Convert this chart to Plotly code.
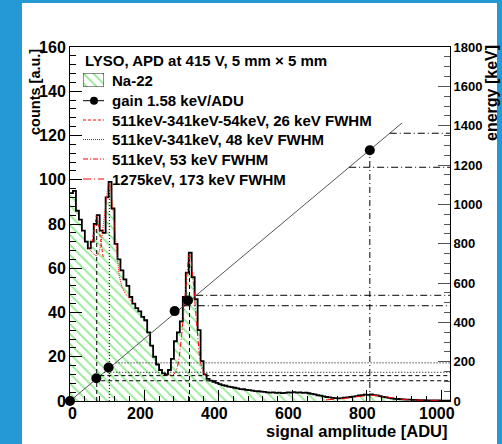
import numpy as np
import plotly.graph_objects as go

# ---------------- data ----------------
BIN_WIDTH = 8  # ADU per histogram bin, range 0..1024
counts = [
    94, 95, 86, 82, 77, 72, 69, 72, 80, 84, 77, 76, 92, 99, 87, 71,
    64, 59, 55, 52, 47, 44, 42, 40.5, 38, 36.5, 31, 25, 20, 16.5, 14, 12.5,
    12, 14, 19, 27, 31, 36, 47, 58, 67, 56, 46, 32, 18, 12, 10, 9.2,
    8.7, 8.2, 7.6, 7.2, 6.9, 6.5, 6.3, 6.0, 5.7, 5.4, 5.3, 5.0, 4.9, 4.7, 4.5, 4.4,
    4.2, 4.1, 3.9, 3.8, 3.9, 3.7, 3.8, 3.6, 3.7, 3.9, 3.8, 4.0, 3.8, 3.9, 3.7, 3.8,
    3.5, 3.2, 3.0, 2.6, 2.4, 2.1, 1.8, 1.6, 1.4, 1.3, 1.2, 1.3, 1.5, 1.6, 1.8, 2.0,
    2.2, 2.5, 2.6, 2.9, 2.8, 3.0, 2.7, 2.5, 2.2, 1.9, 1.6, 1.4, 1.2, 1.0, 0.9, 0.8,
    0.7, 0.6, 0.6, 0.5, 0.5, 0.4, 0.4, 0.4, 0.3, 0.3, 0.3, 0.3, 0.3, 0.2, 0.2, 0.2,
]
x_ticks = [0, 200, 400, 600, 800, 1000]

GAIN = 1.58          # keV / ADU
gain_line_adu = [0, 895]

# calibration points (signal amplitude, energy)
cal_adu = [0, 71, 104, 282, 318, 808]
cal_kev = [0, 116, 170, 457, 511, 1275]

# gaussian + linear background peak fits
fit_labels = ["511keV-341keV-54keV, 26 keV FWHM", "511keV-341keV, 48 keV FWHM",
              "511keV, 53 keV FWHM", "1275keV, 173 keV FWHM"]
fit_kev = [116, 170, 511, 1275]
fit_fwhm_kev = [26, 48, 53, 173]
fit_mean_adu = [72, 106, 322, 807]
fit_amp = [17, 41, 55, 2.3]
fit_lo_adu = [56, 50, 250, 690]
fit_hi_adu = [90, 168, 372, 1000]
fit_bg_lo = [68.5, 69, 11.5, 0.4]
fit_bg_hi = [64.5, 44.5, 11.0, 0.3]
fit_dash = ["3px,2px", "1px,1px", "5px,2px,1px,2px", "8px,3px,1px,3px"]

# peak markers: vertical guides (ADU, top in counts) and their styles
vline_adu = [72, 106, 322, 808]
vline_top = [83, 96, 64, 113.3]
vline_dash = ["4px,3px", "1px,2px", "4px,3px", "6px,3px,1px,3px"]
hline_dash = ["4px,3px", "1px,2px", "7px,3px,1px,3px", "7px,3px,1px,3px"]

FONT = "Liberation Sans, Arial, sans-serif"
BLUE = "#2599d4"
GREEN = "#1fd31f"
RED = "#ff0000"

fig = go.Figure()

hatch = dict(shape="\\", fgcolor=GREEN, bgcolor="rgba(255,255,255,0)",
             size=7, solidity=0.24, fillmode="overlay")

# histogram
edges = np.arange(len(counts) + 1) * BIN_WIDTH
hist_y = list(counts) + [counts[-1]]
fig.add_trace(go.Scatter(
    x=edges, y=hist_y, mode="lines", line=dict(color="black", width=1.8, shape="hv"),
    fill="tozeroy", fillcolor="rgba(0,0,0,0)", fillpattern=hatch,
    showlegend=False, hoverinfo="skip"))

# fits
for i in range(len(fit_labels)):
    x = np.linspace(fit_lo_adu[i], fit_hi_adu[i], 200)
    sigma = fit_fwhm_kev[i] / GAIN / 2.3548
    bg = fit_bg_lo[i] + (fit_bg_hi[i] - fit_bg_lo[i]) * (x - fit_lo_adu[i]) / (fit_hi_adu[i] - fit_lo_adu[i])
    y = bg + fit_amp[i] * np.exp(-0.5 * ((x - fit_mean_adu[i]) / sigma) ** 2)
    fig.add_trace(go.Scatter(x=x, y=y, mode="lines",
                             line=dict(color=RED, width=1, dash=fit_dash[i]),
                             showlegend=False, hoverinfo="skip"))

# vertical guides at peak positions
for i in range(len(vline_adu)):
    fig.add_trace(go.Scatter(x=[vline_adu[i], vline_adu[i]], y=[0, vline_top[i]], mode="lines",
                             line=dict(color="black", width=1, dash=vline_dash[i]),
                             showlegend=False, hoverinfo="skip"))

# gain line (energy axis)
fig.add_trace(go.Scatter(x=gain_line_adu, y=[a * GAIN for a in gain_line_adu], mode="lines",
                         line=dict(color="#555555", width=1), yaxis="y2",
                         showlegend=False, hoverinfo="skip"))

# E +- FWHM/2 guides from the gain line to the energy axis
for i in range(len(fit_kev)):
    for e in (fit_kev[i] - fit_fwhm_kev[i] / 2, fit_kev[i] + fit_fwhm_kev[i] / 2):
        fig.add_trace(go.Scatter(x=[e / GAIN, 1024], y=[e, e], mode="lines",
                                 line=dict(color="black", width=1, dash=hline_dash[i]),
                                 yaxis="y2", showlegend=False, hoverinfo="skip"))

# calibration points
fig.add_trace(go.Scatter(x=cal_adu, y=cal_kev, mode="markers", yaxis="y2",
                         marker=dict(color="black", size=10), cliponaxis=False,
                         showlegend=False, hoverinfo="skip"))

# ---------------- legend (drawn by hand) ----------------
PX_L, PX_R, PX_T, PX_B = 70, 450, 47, 401
def px(xp):
    return (xp - PX_L) / (PX_R - PX_L)
def py(yp):
    return (PX_B - yp) / (PX_B - PX_T)

bold = lambda s: dict(family=FONT, size=s, color="black", weight="bold")

legend_text = ["Na-22", "gain 1.58 keV/ADU"] + fit_labels
legend_yc = [80.7, 100.7, 120, 139.5, 159, 179]
annotations = [dict(text="LYSO, APD at 415 V, 5 mm \u00d7 5 mm", x=px(83), y=py(60),
                    xref="paper", yref="paper", xanchor="left", yanchor="middle", showarrow=False,
                    font=bold(15))]
for t, yc in zip(legend_text, legend_yc):
    annotations.append(dict(text=t, x=px(110), y=py(yc), xref="paper", yref="paper",
                            xanchor="left", yanchor="middle", showarrow=False, font=bold(15)))

shapes = [dict(type="rect", xref="paper", yref="paper", x0=px(22), x1=px(497), y0=py(444), y1=py(3),
               fillcolor="white", line=dict(width=0), layer="below")]
# gain entry
shapes.append(dict(type="line", xref="paper", yref="paper", x0=px(83), x1=px(104),
                   y0=py(legend_yc[1]), y1=py(legend_yc[1]), line=dict(color="black", width=1)))
shapes.append(dict(type="circle", xref="paper", yref="paper", xsizemode="pixel", ysizemode="pixel",
                   xanchor=px(94), yanchor=py(legend_yc[1]), x0=-4, x1=4, y0=-4, y1=4,
                   fillcolor="black", line=dict(width=0)))
for i in range(len(fit_labels)):
    yc = legend_yc[2 + i]
    shapes.append(dict(type="line", xref="paper", yref="paper", x0=px(83), x1=px(104),
                       y0=py(yc), y1=py(yc), line=dict(color=RED, width=1, dash=fit_dash[i])))

# hatched swatch for the histogram entry
fig.add_trace(go.Scatter(x=[0, 1, 1, 0, 0], y=[0, 0, 1, 1, 0], xaxis="x3", yaxis="y3",
                         mode="lines", fill="toself", fillcolor="rgba(0,0,0,0)",
                         line=dict(color="#222222", width=1), fillpattern=hatch,
                         showlegend=False, hoverinfo="skip"))

# x tick labels sit just under the axis
for v in x_ticks:
    annotations.append(dict(text=str(v), x=v, xref="x", y=py(403), yref="paper",
                            xshift=2 if v == 0 else -4,
                            xanchor="center", yanchor="top", showarrow=False, font=bold(16)))

# axis titles
annotations += [
    dict(text="signal amplitude [ADU]", x=1.0, y=py(420), xref="paper", yref="paper",
         xanchor="right", yanchor="top", showarrow=False, font=bold(16.5)),
    dict(text="counts [a.u.]", x=px(35), y=1.0, xref="paper", yref="paper", textangle=-90,
         xanchor="center", yanchor="top", showarrow=False, font=bold(14.5)),
    dict(text="energy [keV]", x=px(491), y=py(43), xref="paper", yref="paper", textangle=-90,
         xanchor="center", yanchor="top", showarrow=False, font=bold(16)),
]

fig.update_layout(
    width=502, height=444, autosize=False,
    margin=dict(l=70, r=52, t=47, b=43, pad=0),
    paper_bgcolor=BLUE, plot_bgcolor="white",
    showlegend=False,
    shapes=shapes, annotations=annotations,
    xaxis=dict(range=[0, 1024], tickvals=x_ticks, ticks="inside", showticklabels=False,
               ticklen=11, tickwidth=1, tickcolor="black",
               minor=dict(dtick=40, tick0=0, ticks="inside", ticklen=5, tickcolor="black"),
               showline=True, linecolor="black", linewidth=1, mirror=True,
               showgrid=False, zeroline=False),
    yaxis=dict(range=[0, 160], dtick=20, ticks="inside", ticklen=12, tickwidth=1, tickcolor="black",
               minor=dict(dtick=4, tick0=0, ticks="inside", ticklen=6, tickcolor="black"),
               showline=True, linecolor="black", linewidth=1,
               showgrid=False, zeroline=False, tickfont=bold(16)),
    yaxis2=dict(range=[0, 1800], dtick=200, overlaying="y", side="right", ticks="inside",
                ticklen=12, tickwidth=1, tickcolor="#555555",
                minor=dict(dtick=50, tick0=0, ticks="inside", ticklen=6, tickcolor="#555555"),
                showline=True, linecolor="black", linewidth=1,
                showgrid=False, zeroline=False, tickfont=bold(13)),
    xaxis3=dict(domain=[px(83), px(104)], range=[0, 1], visible=False, anchor="y3"),
    yaxis3=dict(domain=[py(87), py(73)], range=[0, 1], visible=False, anchor="x3"),
)

fig.write_html("out.html")
